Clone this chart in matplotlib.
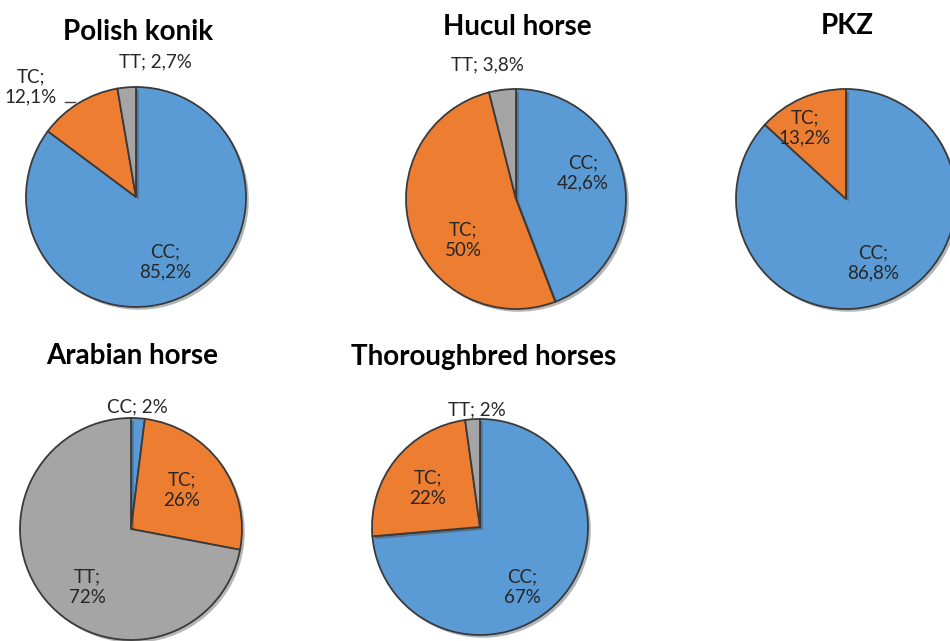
import matplotlib
matplotlib.use("Agg")
import matplotlib.pyplot as plt
import matplotlib.patheffects as pe

plt.rcParams['font.family'] = ['Lato', 'DejaVu Sans']

genotypes = ["CC", "TC", "TT"]
colors = ["#5B9BD5", "#ED7D31", "#A5A5A5"]

breeds = ["Polish konik", "Hucul horse", "PKZ", "Arabian horse", "Thoroughbred horses"]
polish_konik = [85.2, 12.1, 2.7]
hucul_horse = [42.6, 50.0, 3.8]
pkz = [86.8, 13.2, 0.0]
arabian_horse = [2.0, 26.0, 72.0]
thoroughbred = [67.0, 22.0, 2.0]
label_texts = {
    "Polish konik": ["CC;\n85,2%", "TC;\n12,1%", "TT; 2,7%"],
    "Hucul horse": ["CC;\n42,6%", "TC;\n50%", "TT; 3,8%"],
    "PKZ": ["CC;\n86,8%", "TC;\n13,2%", None],
    "Arabian horse": ["CC; 2%", "TC;\n26%", "TT;\n72%"],
    "Thoroughbred horses": ["CC;\n67%", "TC;\n22%", "TT; 2%"],
}
values = [polish_konik, hucul_horse, pkz, arabian_horse, thoroughbred]

# layout (pixel coordinates, y from top)
W, H = 950, 641
centers = [(136, 197), (516, 199), (846, 199), (131, 529), (480, 527)]
radii = [110, 110, 110, 111, 108]
title_pos = [(138, 32), (517, 27), (847, 26), (132, 356), (484, 357)]
# label positions as offsets from the centre (pixels, y down)
label_pos = {
    "Polish konik": [(29, 65), (-105, -110), (19, -135)],
    "Hucul horse": [(67, -26), (-53, 41), (-29, -134)],
    "PKZ": [(27, 64), (-41, -71), None],
    "Arabian horse": [(6, -122), (51, -39), (-44, 58)],
    "Thoroughbred horses": [(42, 60), (-52, -39), (-3, -117)],
}

fig = plt.figure(figsize=(9.5, 6.41), dpi=100)
ax = fig.add_axes([0, 0, 1, 1])

for name, vals, (cx, cy), r, (tx, ty) in zip(breeds, values, centers, radii, title_pos):
    wedges, _ = ax.pie(vals, colors=colors, startangle=90, counterclock=False,
                       center=(cx, H - cy), radius=r, normalize=True,
                       wedgeprops=dict(edgecolor="#3a3a3a", linewidth=1.3))
    for w in wedges:
        w.set_path_effects([pe.SimplePatchShadow(offset=(2, -2), alpha=0.35),
                            pe.Normal()])
    ax.text(tx, H - ty, name, ha='center', va='center', fontsize=20,
            fontweight='bold', color='black')
    for txt, pos in zip(label_texts[name], label_pos[name]):
        if txt is None:
            continue
        ax.text(cx + pos[0], H - (cy + pos[1]), txt, ha='center', va='center',
                fontsize=13.5, color='#262626', linespacing=1.25)

# leader line for Polish konik TC label
ax.plot([65, 75], [H - 102, H - 102], color='#404040', lw=1)

ax.set_xlim(0, W)
ax.set_ylim(0, H)
ax.set_aspect('equal')
ax.axis('off')

fig.savefig("out.png", dpi=100)
